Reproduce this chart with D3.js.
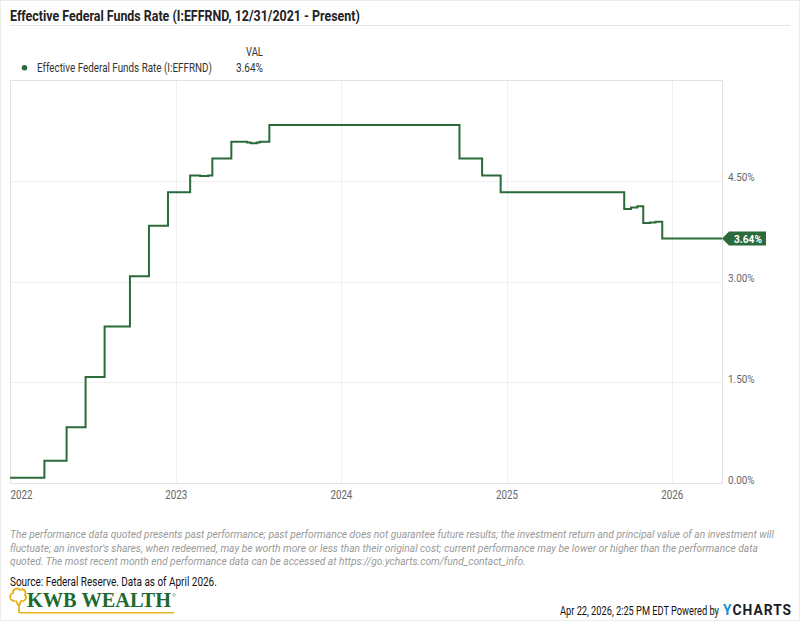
<!DOCTYPE html>
<html>
<head>
<meta charset="utf-8">
<script src="https://cdn.jsdelivr.net/npm/d3@7"></script>
<style>
  html, body { margin: 0; padding: 0; background: #fff; }
  svg { display: block; font-family: Roboto, "Liberation Sans", sans-serif; }
</style>
</head>
<body>
<svg id="chart" width="800" height="621"></svg>
<script>
// ---------- data (step change dates and values, %) ----------
const changeDates = [
  "2021-12-31", "2022-03-17", "2022-05-05", "2022-06-16", "2022-07-28",
  "2022-09-22", "2022-11-03", "2022-12-15", "2023-02-02", "2023-02-24",
  "2023-03-14", "2023-03-23", "2023-05-04", "2023-06-08", "2023-06-16",
  "2023-06-29", "2023-07-06", "2023-07-27", "2024-09-19", "2024-11-08",
  "2024-12-19", "2025-09-18", "2025-10-03", "2025-10-17", "2025-10-30",
  "2025-11-14", "2025-11-26", "2025-12-11", "2026-04-22"
];
const rateValues = [
  0.08, 0.33, 0.83, 1.58, 2.33,
  3.08, 3.83, 4.33, 4.58, 4.57,
  4.58, 4.83, 5.08, 5.07, 5.06,
  5.07, 5.08, 5.33, 4.83, 4.58,
  4.33, 4.08, 4.10, 4.12, 3.87,
  3.88, 3.89, 3.64, 3.64
];
const yTicks = [0, 1.5, 3, 4.5];
const xTickYears = ["2022", "2023", "2024", "2025", "2026"];
const seriesName = "Effective Federal Funds Rate (I:EFFRND)";
const lastValue = 3.64;
const titleText = "Effective Federal Funds Rate (I:EFFRND, 12/31/2021 - Present)";
const disclaimerLines = [
  "The performance data quoted presents past performance; past performance does not guarantee future results; the investment return and principal value of an investment will",
  "fluctuate; an investor's shares, when redeemed, may be worth more or less than their original cost; current performance may be lower or higher than the performance data",
  "quoted. The most recent month end performance data can be accessed at https://go.ycharts.com/fund_contact_info."
];
const sourceText = "Source: Federal Reserve. Data as of April 2026.";
const stampText = "Apr 22, 2026, 2:25 PM EDT Powered by";

// ---------- setup ----------
const parse = d3.timeParse("%Y-%m-%d");
const data = changeDates.map((d, i) => ({ date: parse(d), value: rateValues[i] }));
const green = "#2b6a3b";
const svg = d3.select("#chart");

// draws text condensed horizontally to a target width (like a condensed face)
function fitText(parent, x, y, str, width, anchor) {
  const t = parent.append("text").attr("x", 0).attr("y", 0).text(str);
  t._fit = () => {
    const w = t.node().getComputedTextLength();
    const s = Math.min(1, width / w);
    let ox = x;
    if (anchor === "end") ox = x - w * s;
    if (anchor === "middle") ox = x - w * s / 2;
    t.attr("transform", `translate(${ox},${y}) scale(${s},1)`);
    return t;
  };
  return t;
}

const plot = { left: 10, right: 722, top: 80, bottom: 483 };
const x = d3.scaleTime()
  .domain([parse("2021-12-31"), parse("2026-04-22")])
  .range([plot.left, plot.right]);
const y = d3.scaleLinear().domain([0, 6]).range([plot.bottom, plot.top]);

// outer frame
svg.append("rect").attr("x", 0.5).attr("y", 0.5).attr("width", 799).attr("height", 620)
  .attr("fill", "none").attr("stroke", "#ececec");

// title
fitText(svg, 10, 21, titleText, 350).attr("font-size", 15).attr("font-weight", 700)
  .attr("fill", "#222")._fit();
svg.append("line").attr("x1", 10).attr("x2", 790).attr("y1", 25.5).attr("y2", 25.5)
  .attr("stroke", "#e6e6e6");

// legend
fitText(svg, 263, 55.5, "VAL", 17, "end").attr("font-size", 12).attr("fill", "#333")._fit();
svg.append("circle").attr("cx", 24.5).attr("cy", 67.7).attr("r", 2.8).attr("fill", green);
fitText(svg, 37, 72, seriesName, 175).attr("font-size", 12.5).attr("fill", "#333")._fit();
fitText(svg, 263, 72, lastValue.toFixed(2) + "%", 27, "end").attr("font-size", 12.5)
  .attr("fill", "#333")._fit();

// gridlines
const g = svg.append("g");
g.selectAll(".hgrid").data(yTicks).join("line")
  .attr("x1", plot.left).attr("x2", plot.right)
  .attr("y1", d => Math.round(y(d)) + 0.5).attr("y2", d => Math.round(y(d)) + 0.5)
  .attr("stroke", "#efefef");
const yearDates = xTickYears.map(s => parse(s + "-01-01"));
g.selectAll(".vgrid").data(yearDates.slice(1)).join("line")
  .attr("x1", d => Math.round(x(d)) + 0.5).attr("x2", d => Math.round(x(d)) + 0.5)
  .attr("y1", plot.top).attr("y2", plot.bottom)
  .attr("stroke", "#efefef");

// plot border
svg.append("rect").attr("x", plot.left + 0.5).attr("y", plot.top + 0.5)
  .attr("width", plot.right - plot.left).attr("height", plot.bottom - plot.top)
  .attr("fill", "none").attr("stroke", "#e3e3e3");

// right axis labels
const yAxis = d3.axisRight(y).tickValues(yTicks).tickSize(0).tickPadding(0)
  .tickFormat(d => d.toFixed(2) + "%");
const yA = svg.append("g").attr("transform", `translate(${plot.right + 6},-3.5)`).call(yAxis);
yA.select(".domain").remove();
yA.selectAll("text").attr("font-size", 11.5).attr("fill", "#666")
  .attr("font-family", "Roboto, sans-serif")
  .attr("textLength", 26.5).attr("lengthAdjust", "spacingAndGlyphs");

// bottom axis labels
const xAxis = d3.axisBottom(x).tickValues(yearDates).tickSize(0).tickPadding(0)
  .tickFormat(d3.timeFormat("%Y"));
const xA = svg.append("g").attr("transform", `translate(0,${plot.bottom + 7})`).call(xAxis);
xA.select(".domain").remove();
xA.selectAll("text").attr("font-size", 12).attr("fill", "#666")
  .attr("font-family", "Roboto, sans-serif")
  .attr("textLength", 22).attr("lengthAdjust", "spacingAndGlyphs");
xA.selectAll(".tick").filter((d, i) => i === 0).select("text")
  .attr("text-anchor", "start").attr("x", plot.left - x(yearDates[0]));

// line
const line = d3.line().x(d => x(d.date)).y(d => y(d.value)).curve(d3.curveStepAfter);
svg.append("path").datum(data).attr("d", line)
  .attr("fill", "none").attr("stroke", green).attr("stroke-width", 2)
  .attr("stroke-linejoin", "miter");

// last value tag
const ty = y(lastValue);
const tx = plot.right;
svg.append("path")
  .attr("d", `M${tx},${ty} L${tx + 7},${ty - 7} L${tx + 44},${ty - 7} L${tx + 44},${ty + 7} L${tx + 7},${ty + 7} Z`)
  .attr("fill", green);
fitText(svg, tx + 26, ty + 4, lastValue.toFixed(2) + "%", 28, "middle")
  .attr("font-size", 11.5).attr("font-weight", 700).attr("fill", "#fff")._fit();

// disclaimer
const lens = [764, 748, 516];
disclaimerLines.forEach((t, i) => {
  fitText(svg, 10, 538 + i * 13.7, t, lens[i])
    .attr("font-size", 11.6).attr("font-style", "italic").attr("fill", "#999")._fit();
});
fitText(svg, 10, 586, sourceText, 207).attr("font-size", 12.5).attr("fill", "#111")._fit();

// KWB WEALTH logo
const logo = svg.append("g");
const gold = "#e8b21c";
logo.append("path")
  .attr("d", "M14,601 C9,600 9,594 13,593 C12,589 18,587 20,590 C23,588 27,591 25,595 C28,598 24,602 21,601 L20,603 C19,605 19,608 19,612 M16,601 C17,603 18,605 19,606")
  .attr("fill", "none").attr("stroke", gold).attr("stroke-width", 1.8).attr("stroke-linecap", "round");
logo.append("line").attr("x1", 19).attr("x2", 174).attr("y1", 612.8).attr("y2", 612.8)
  .attr("stroke", gold).attr("stroke-width", 1.6);
fitText(logo, 27, 606.5, "KWB WEALTH", 144)
  .attr("font-family", "'Liberation Serif', 'DejaVu Serif', serif").attr("font-weight", 700)
  .attr("font-size", 21).attr("fill", "#1d6a2e")._fit();
logo.append("circle").attr("cx", 174).attr("cy", 595).attr("r", 1.3)
  .attr("fill", "none").attr("stroke", "#1d6a2e").attr("stroke-width", 0.4);

// timestamp + ycharts
fitText(svg, 560, 614.5, stampText, 159).attr("font-size", 12.5).attr("fill", "#111")._fit();
const yc = fitText(svg, 723, 615, "YCHARTS", 69).attr("font-size", 14).attr("font-weight", 700)
  .attr("letter-spacing", 1);
yc.text(null);
yc.append("tspan").attr("fill", "#1a8fd8").text("Y");
yc.append("tspan").attr("fill", "#1b1d2a").text("CHARTS");
yc._fit();
</script>
</body>
</html>
